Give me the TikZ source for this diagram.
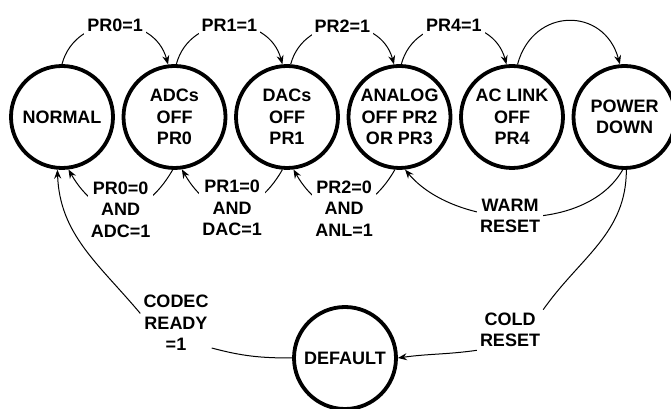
\documentclass[tikz,border=0pt]{standalone}
\usepackage{fontspec}
\setmainfont{Liberation Sans}
\usetikzlibrary{arrows.meta}
\begin{document}
\begin{tikzpicture}[x=1pt,y=1pt,
        font=\fontsize{18}{21.5}\selectfont\bfseries,
        state/.style={circle,draw,line width=3.8pt,minimum size=102pt,inner sep=0pt,align=center},
        lab/.style={fill=white,inner sep=3pt,align=center},
        arr/.style={line width=1pt,-{Stealth[length=9pt,width=7pt,inset=3pt]}},
        seg/.style={line width=1pt}]
                    \useasboundingbox (0,0) rectangle (671,409);
                    \node[state] (N) at (62,292) {NORMAL};
                    \node[state] (A) at (174.5,292) {ADCs\\OFF\\PR0};
                    \node[state] (D) at (287,292) {DACs\\OFF\\PR1};
                    \node[state] (G) at (399.5,292) {ANALOG\\OFF PR2\\OR PR3};
                    \node[state] (L) at (512,292) {AC LINK\\OFF\\PR4};
                    \node[state] (P) at (624.5,292) {POWER\\DOWN};
                    \node[state] (F) at (345,51) {DEFAULT};
                    \draw[arr] (N.90) to[out=75,in=105,looseness=1.3] node[lab] {PR0=1} (A.97);
                    \draw[arr] (A.88) to[out=75,in=105,looseness=1.3] node[lab] {PR1=1} (D.95);
                    \draw[arr] (D.86) to[out=75,in=105,looseness=1.3] node[lab] {PR2=1} (G.96);
                    \draw[arr] (G.88) to[out=75,in=105,looseness=1.3] node[lab] {PR4=1} (L.96);
                    \draw[arr] (L.84) to[out=75,in=105,looseness=1.5] (P.95);
                    \draw[arr] (A.-92) to[out=-120,in=-60,looseness=1.5] node[lab] {PR0=0\\AND\\ADC=1} (N.-83);
                    \draw[arr] (D.-95) to[out=-120,in=-60,looseness=1.5] node[lab] {PR1=0\\AND\\DAC=1} (A.-82);
                    \draw[arr] (G.-95) to[out=-120,in=-60,looseness=1.5] node[lab] {PR2=0\\AND\\ANL=1} (D.-83);
                    \draw[arr] (P.-92) to[out=-120,in=-50,looseness=0.9] node[lab,pos=0.53] {WARM\\RESET} (G.-84);
                    \node[lab] (cold) at (510,79) {COLD\\RESET};
                    \draw[seg] (P.-88) to[out=-90,in=55] (cold.north east);
                    \draw[arr] (cold.south west) to[out=188,in=8] (F.east);
                    \node[lab] (codec) at (176,86) {CODEC\\READY\\=1};
                    \draw[seg] (F.west) to[out=180,in=-15] (codec.-35);
                    \draw[arr] (codec.165) to[out=130,in=-88] (N.-95);
                \end{tikzpicture}
\end{document}
